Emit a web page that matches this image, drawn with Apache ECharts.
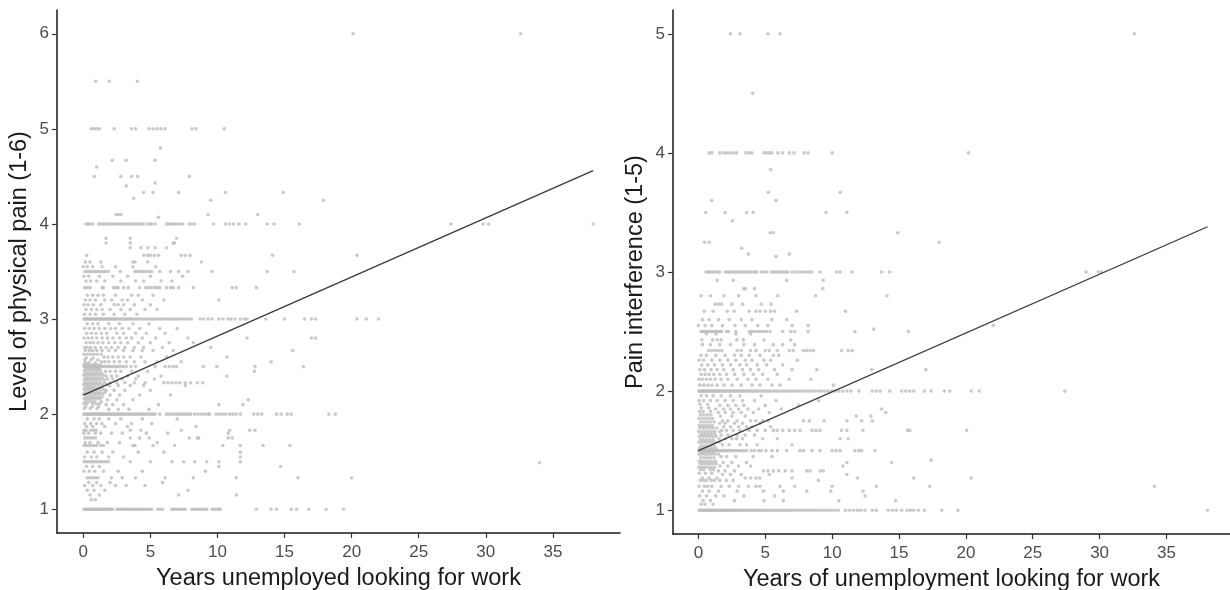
<!DOCTYPE html>
<html><head><meta charset="utf-8">
<script src="https://cdn.jsdelivr.net/npm/echarts@6/dist/echarts.min.js"></script>
<style>html,body{margin:0;padding:0;background:#fff}#c{width:1230px;height:590px}</style>
</head><body><div id="c"></div>
<script>
// ---------- tick labels ----------
const xTicks = [0, 5, 10, 15, 20, 25, 30, 35];
const painTicks = [1, 2, 3, 4, 5, 6];
const interfTicks = [1, 2, 3, 4, 5];

// ---------- LEFT PANEL: Level of physical pain (1-6) ----------
const painAt1 = [0.05,0.14,0.22,0.33,0.41,0.5,0.61,0.7,0.78,0.9,0.98,1.07,1.18,1.26,1.37,1.45,1.55,1.66,1.74,1.86,1.95,2.05,2.18,2.5,2.62,2.77,2.9,3.04,3.18,3.3,3.45,3.57,3.7,3.84,3.96,4.1,4.24,4.38,4.52,4.66,4.8,4.95,5.1,5.55,5.72,5.9,6.6,6.72,6.86,7.0,7.15,7.3,7.45,7.6,8.1,8.25,8.42,8.57,8.73,8.9,9.06,9.2,9.6,9.75,9.93,10.1,10.2,12.9,14.0,14.4,15.5,15.9,16.8,18.1,19.4];
const painAt15 = [0.06,0.19,0.33,0.47,0.62,0.78,0.93,1.08,1.24,1.4,1.56,1.72,1.88,3.5,5.0,6.6,7.5,8.3,9.2,10.1,11.7];
const painAt2 = [0.04,0.12,0.2,0.29,0.37,0.46,0.55,0.63,0.72,0.8,0.9,0.99,1.08,1.17,1.26,1.35,1.45,1.54,1.63,1.73,1.82,1.92,2.01,2.12,2.22,2.33,2.43,2.55,2.66,2.78,2.9,3.02,3.15,3.27,3.4,3.53,3.66,3.8,3.93,4.07,4.2,4.34,4.48,4.62,4.77,4.92,5.07,5.2,5.35,5.7,6.2,6.4,6.58,6.75,6.95,7.12,7.3,7.5,7.68,7.85,8.0,8.3,8.55,8.8,9.05,9.3,9.4,9.9,10.15,10.4,10.6,10.9,11.15,11.4,11.7,12.7,13.0,13.3,14.4,14.75,15.2,15.5,18.3,18.8];
const painAt25 = [0.06,0.18,0.3,0.42,0.55,0.67,0.79,0.92,1.05,1.18,1.31,1.45,1.58,1.72,1.86,2.0,2.15,2.3,2.46,2.62,2.8,2.98,3.2,3.55,3.9,5.35,6.1,6.4,6.7,6.95,8.95,9.95,12.8,16.4];
const painAt3 = [0.05,0.13,0.21,0.3,0.38,0.47,0.56,0.64,0.73,0.82,0.91,1.0,1.1,1.19,1.28,1.38,1.47,1.57,1.66,1.76,1.86,1.96,2.07,2.17,2.28,2.39,2.5,2.62,2.74,2.86,2.98,3.1,3.23,3.36,3.49,3.62,3.76,3.9,4.05,4.2,4.35,4.5,4.66,4.82,4.98,5.14,5.3,5.47,5.63,5.8,5.97,6.14,6.32,6.5,6.68,6.86,7.05,7.24,7.43,7.62,7.82,8.05,8.7,8.95,9.3,9.6,10.1,10.4,10.8,11.0,11.3,11.7,12.0,12.2,13.6,15.0,16.5,17.0,17.3,20.4,21.1,22.0];
const painAt35 = [0.13,0.27,0.44,0.58,0.76,0.9,1.06,1.22,1.35,1.52,1.66,1.86,2.75,3.85,4.0,4.2,4.35,4.5,4.7,4.9,5.1,5.7,6.5,7.1,7.8,9.6,13.7,15.7];
const painAt4 = [0.2,0.35,0.5,0.7,1.15,1.3,1.45,1.6,1.75,1.9,2.05,2.2,2.35,2.5,2.65,2.8,2.95,3.1,3.25,3.4,3.55,3.7,3.85,4.0,4.15,4.3,4.5,4.8,4.95,5.1,5.35,6.2,6.35,6.5,6.7,6.85,7.0,7.2,7.4,7.9,8.1,8.3,9.7,10.6,10.9,11.2,11.6,12.1,13.7,14.2,16.1,27.4,29.8,30.2,38.0];
const painAt5 = [0.6,0.8,1.0,1.2,2.3,3.6,3.9,4.9,5.2,5.5,5.8,6.1,8.1,8.4,10.5];
const painAt55 = [0.92,1.94,4.03];
const painAt6 = [20.1,32.6];
// other observed points, as [level, [years...]]
const painRows = [
  [1.1, [0.6,0.9]],
  [1.15, [0.5,1.2,7.1,11.4]],
  [1.2, [0.3,0.8,1.6,7.8]],
  [1.25, [0.1,0.7,1.3,2.4,3.2,4.6]],
  [1.28, [0.4,1.0,2.0,5.9]],
  [1.33, [0.3,0.5,0.7,0.9,1.1,2.1,2.9,3.9,6.1,8.2,11.4,16.0,20.0]],
  [1.4, [0.05,0.45,0.85,1.5,2.6,4.4,9.1]],
  [1.45, [0.25,0.7,1.2,10.1,14.7]],
  [1.49, [34.0]],
  [1.55, [0.1,0.6,1.0,1.9,3.0,11.7]],
  [1.6, [0.3,0.8,1.4,2.2,4.1,6.0,11.7]],
  [1.67, [0.05,0.2,0.4,0.6,0.8,1.0,1.3,1.5,3.7,3.85,5.2,6.8,10.4,11.7,13.4,15.4]],
  [1.7, [0.15,0.5,1.1,1.8,2.7,5.5]],
  [1.75, [0.1,0.3,0.5,0.7,0.9,3.5,4.2,4.9,7.9,8.5,8.6,10.8,11.1]],
  [1.8, [0.05,0.4,0.9,1.3,2.1,2.9,4.7,6.3,10.8]],
  [1.83, [0.05,0.2,0.55,0.75,0.95,3.5,4.3,7.3,10.9,12.4,12.8]],
  [1.87, [0.25,0.7,1.6,3.3,8.4]],
  [1.9, [0.1,0.55,1.0,1.4,2.4,3.6,5.1]],
  [1.95, [0.3,0.8,1.2,1.9,2.8,4.4,7.0]],
  [2.05, [1.9,2.6,3.4,4.9]],
  [2.1, [1.7,2.2,3.0,5.6,10.1,11.9]],
  [2.15, [1.8,2.5,3.7,12.3]],
  [2.2, [2.0,2.7,4.2,6.5]],
  [2.25, [1.7,2.3,3.1,5.0]],
  [2.3, [1.95,2.6,3.5,4.5,7.6]],
  [2.33, [1.6,2.0,2.5,3.1,3.8,4.6,6.0,6.3,6.6,6.9,7.2,7.6,8.0,8.5,8.9]],
  [2.37, [1.8,2.2,2.9,3.9,5.3]],
  [2.4, [1.7,2.1,2.5,3.3,4.1,5.8,10.7]],
  [2.45, [1.65,2.0,2.4,2.8,3.6,4.8,12.75]],
  [2.55, [1.35,1.6,1.9,2.3,2.7,3.2,3.8,4.6,5.5,7.3,14.0]],
  [2.6, [1.55,1.85,2.2,2.6,3.0,3.5,4.3,6.2,10.7]],
  [2.63, [0.05,0.3,0.55,0.8,1.05,1.35]],
  [2.67, [0.15,0.45,0.7,1.0,1.4,1.9,2.4,3.0,3.7,4.4,5.2,6.7,15.6]],
  [2.7, [0.1,0.3,0.55,0.9,1.3,1.7,2.1,2.6,3.1,3.8,4.5,5.9,9.5]],
  [2.75, [0.2,0.5,0.75,1.1,1.45,1.9,2.35,2.8,3.3,4.1,5.0,6.4,8.2]],
  [2.8, [0.05,0.35,0.65,1.0,1.4,1.8,2.2,2.7,3.2,3.6,4.4,5.4,7.8,12.2,17.0,17.3]],
  [2.85, [0.25,0.6,0.95,1.35,1.75,2.5,3.0,3.9,4.7,6.1]],
  [2.9, [0.1,0.45,0.8,1.2,1.6,2.05,2.4,2.9,3.4,4.2,5.7,7.0]],
  [2.95, [0.3,0.7,1.1,1.9,2.7,3.7,4.9]],
  [3.05, [0.1,0.5,0.9,1.5,2.3,3.1,4.0]],
  [3.1, [0.2,0.6,1.0,1.4,2.0,2.8,3.5,4.6,5.5]],
  [3.15, [0.05,0.35,0.75,1.3,2.3,2.6,3.0,3.8,5.0]],
  [3.2, [0.15,0.5,0.9,1.6,2.1,2.9,3.3,4.4,6.0,10.1]],
  [3.25, [0.3,0.7,1.1,1.5,2.4,3.6,4.1,5.2]],
  [3.33, [0.1,0.3,0.5,1.4,1.5,2.25,2.45,2.6,3.0,3.35,4.2,4.65,4.85,5.05,5.3,5.5,5.7,6.2,6.5,6.7,7.1,8.2,11.1,11.4,12.9]],
  [3.4, [0.2,0.55,1.0,1.6,2.8,3.9,4.5,5.8,6.6]],
  [3.45, [0.05,0.4,1.2,2.2,3.3,5.0,7.4]],
  [3.55, [0.0,0.3,0.7,1.4,2.4,3.7,5.4]],
  [3.6, [0.15,0.5,1.3,3.7,3.85,4.8,8.8]],
  [3.67, [0.25,4.5,4.8,5.0,5.3,5.6,7.3,7.6,7.95,14.1,20.4]],
  [3.75, [3.5,4.3,4.8,5.35,6.2]],
  [3.8, [1.7,3.5,6.7,6.8]],
  [3.85, [1.7,3.5,6.95]],
  [4.07, [5.6]],
  [4.1, [2.45,2.6,2.8,9.3,13.0]],
  [4.25, [9.5,17.9]],
  [4.27, [3.75]],
  [4.33, [4.5,5.2,7.1,10.6,14.9]],
  [4.4, [3.2]],
  [4.43, [5.35]],
  [4.5, [0.82,2.8,3.6,4.05,7.9]],
  [4.6, [1.0]],
  [4.67, [2.15,3.2,5.35]],
  [4.8, [5.75]]
];
// dense cluster of short-term unemployed (left panel)
const painBlob = [
  [2.06, [0.08,0.52,1.02]],
  [2.08, [0.18,0.66,1.15]],
  [2.11, [0.04,0.27,0.71,0.96,1.2]],
  [2.13, [0.15,0.37,0.6,0.84,1.33]],
  [2.16, [0.07,0.29,0.51,0.74,0.99,1.24]],
  [2.18, [0.19,0.41,0.63,0.87,1.12,1.38]],
  [2.21, [0.03,0.25,0.46,0.68,0.92,1.17,1.45]],
  [2.23, [0.13,0.35,0.57,0.8,1.05,1.3,1.62]],
  [2.26, [0.06,0.28,0.5,0.73,0.97,1.22,1.5]],
  [2.28, [0.16,0.39,0.61,0.85,1.1,1.36]],
  [2.31, [0.02,0.24,0.45,0.67,0.9,1.15,1.42,1.72]],
  [2.33, [0.12,0.34,0.56,0.79,1.03,1.28]],
  [2.36, [0.07,0.3,0.52,0.75,0.99,1.25,1.55]],
  [2.38, [0.18,0.41,0.64,0.88,1.13,1.4]],
  [2.41, [0.04,0.26,0.48,0.71,0.95,1.2,1.48]],
  [2.43, [0.14,0.37,0.6,0.83,1.08,1.34]],
  [2.46, [0.08,0.31,0.54,0.78,1.02,1.27]],
  [2.48, [0.2,0.44,0.68,0.93,1.18]],
  [2.52, [0.05,0.28,0.52,0.76,1.0,1.26]],
  [2.54, [0.16,0.4,0.89]],
  [2.57, [0.1,0.58,1.09]],
  [2.59, [0.22,0.72]]
];
const painFitX = [0, 38.0];
const painFitY = [2.2, 4.56];

// ---------- RIGHT PANEL: Pain interference (1-5) ----------
const intAt1 = [0.04,0.13,0.21,0.3,0.38,0.47,0.55,0.64,0.72,0.81,0.9,0.98,1.07,1.16,1.25,1.34,1.43,1.52,1.61,1.7,1.8,1.89,1.98,2.08,2.18,2.28,2.38,2.48,2.58,2.69,2.8,2.91,3.02,3.13,3.25,3.37,3.49,3.61,3.74,3.87,4.0,4.13,4.27,4.41,4.55,4.7,4.85,5.0,5.15,5.31,5.47,5.63,5.8,5.97,6.14,6.31,6.49,6.67,6.85,7.03,7.22,7.41,7.6,7.8,8.0,8.2,8.41,8.62,8.83,9.05,9.27,9.5,9.73,9.96,10.2,10.45,11.0,11.3,11.6,11.9,12.15,12.45,13.0,13.3,14.2,14.5,14.8,15.2,15.6,15.85,16.1,16.45,16.9,18.2,19.4,38.07];
const intAt15 = [0.03,0.12,0.2,0.29,0.38,0.46,0.55,0.64,0.73,0.82,0.92,1.01,1.11,1.21,1.31,1.42,1.53,1.64,1.76,1.88,2.0,2.13,2.27,2.41,2.56,2.72,2.88,3.05,3.22,3.4,3.6,3.95,4.2,4.5,4.7,5.05,5.5,5.9,6.6,7.6,7.85,8.5,9.1,10.0,10.3,10.6,11.7,12.0,12.2,13.2];
const intAt2 = [0.04,0.12,0.2,0.28,0.36,0.45,0.53,0.62,0.7,0.79,0.88,0.97,1.06,1.15,1.24,1.34,1.43,1.53,1.63,1.73,1.83,1.93,2.04,2.15,2.26,2.37,2.48,2.6,2.72,2.84,2.96,3.09,3.22,3.35,3.48,3.62,3.76,3.9,4.05,4.2,4.35,4.5,4.66,4.82,4.98,5.15,5.32,5.49,5.67,5.85,6.03,6.22,6.41,6.6,6.8,7.0,7.2,7.41,7.62,7.84,8.06,8.28,8.51,8.74,8.98,9.22,9.47,9.72,9.98,10.24,10.5,10.8,11.1,11.4,12.0,13.0,13.3,13.6,14.3,15.2,15.5,15.8,16.1,16.9,17.4,18.4,18.8,20.4,21.0,27.4];
const intAt25 = [0.2,0.32,0.45,0.57,0.7,0.83,0.96,1.1,1.24,1.38,1.52,1.66,1.75,2.1,2.25,2.8,3.8,3.95,4.1,4.3,4.5,4.7,4.9,5.1,5.36,6.3,6.9,7.2,8.2,11.7,15.7];
const intAt3 = [0.58,0.72,0.85,1.0,1.15,1.3,1.45,1.6,2.0,2.15,2.3,2.45,2.6,2.75,2.87,3.1,3.25,3.4,3.55,3.7,3.85,4.0,4.2,4.36,4.7,4.9,5.1,5.43,5.6,5.75,5.9,6.05,6.2,6.35,6.5,6.68,7.0,7.2,7.45,7.68,7.9,8.1,8.3,8.47,9.1,10.34,10.6,11.5,13.7,14.3,29.0,29.9,30.15];
const intAt4 = [0.8,1.0,1.6,1.9,2.1,2.35,2.6,2.85,3.55,3.8,4.0,4.9,5.1,5.3,5.5,5.95,6.3,6.8,7.15,7.9,8.2,10.0,20.2];
const intAt45 = [4.06];
const intAt5 = [2.4,3.1,5.2,6.1,32.6];
const intRows = [
  [1.05, [0.2,0.5,1.1]],
  [1.08, [0.35,0.9,2.7,4.9,6.35,10.5,14.75]],
  [1.12, [0.1,0.6,1.3,1.9,3.4,5.7,12.46]],
  [1.16, [0.3,0.8,1.5,2.9,4.86,6.35,8.1,9.9,12.3]],
  [1.2, [0.05,0.45,0.7,1.0,1.7,2.3,3.0,3.74,4.3,4.6,6.1,7.2,10.0,13.3,17.3,34.1]],
  [1.25, [0.15,0.4,0.6,0.95,1.2,1.6,2.1,2.6,8.97]],
  [1.27, [0.3,0.8,1.4,3.5,3.9,4.3,4.6,7.0,11.9,16.1,20.4]],
  [1.3, [1.8,2.4,3.2,5.3,11.1]],
  [1.33, [1.5,2.0,2.7,4.86,5.2,5.6,6.0,6.5,7.0,8.1,8.35,9.1,9.34]],
  [1.37, [1.6,2.2,3.0,3.9,10.8]],
  [1.4, [1.85,2.5,3.6,11.1,14.45]],
  [1.42, [17.4]],
  [1.45, [1.7,2.1,2.8,4.1,5.5]],
  [1.55, [1.8,2.3,3.1,3.6,4.4,7.0]],
  [1.6, [1.55,2.0,2.5,2.85,3.3,4.8,5.9,10.6,11.2]],
  [1.63, [1.7,2.2,2.9,3.5,4.2]],
  [1.67, [1.75,2.1,2.6,3.1,3.8,4.4,5.0,5.6,5.9,6.3,6.8,7.2,7.6,8.5,8.8,9.1,10.7,11.1,12.3,15.65,15.8,20.06]],
  [1.7, [1.9,2.4,3.0,3.6,4.0,5.4]],
  [1.73, [1.6,2.0,2.7,3.3,4.6]],
  [1.75, [1.8,2.2,2.9,3.9,4.3,4.8,5.2,7.85,8.3,9.4,11.1,12.2,13.0]],
  [1.79, [1.65,2.5,3.5,12.9,11.8]],
  [1.82, [1.5,2.0,2.6,3.2,4.1,5.3,14.0]],
  [1.85, [1.3,1.9,2.4,3.0,3.7,4.5,6.2,13.7]],
  [1.88, [1.6,2.2,2.8,3.4,5.0,7.5]],
  [1.92, [0.05,0.4,0.9,1.4,2.0,2.6,3.3,4.2,5.8,9.0]],
  [1.96, [0.2,0.6,1.1,1.7,2.4,3.1,4.7]],
  [2.05, [0.1,0.4,0.7,1.0,1.4,1.9,2.5,3.2,4.0,4.6,5.5,6.1,10.1]],
  [2.1, [0.05,0.3,0.6,0.9,1.25,1.7,2.2,2.9,3.7,4.3,5.2,6.8,8.4]],
  [2.14, [0.2,0.5,0.8,1.15,1.6,2.1,2.7,3.4,4.1,4.8,5.9]],
  [2.18, [0.1,0.45,0.95,1.4,1.9,2.6,3.3,3.9,4.5,5.7,7.0,8.85,12.96,17.0]],
  [2.22, [0.25,0.7,1.2,1.8,2.4,3.1,3.6,4.4,5.1,6.3]],
  [2.26, [0.05,0.4,1.0,1.6,2.2,2.8,3.5,4.0,4.9,5.4,7.4]],
  [2.3, [0.2,0.6,1.3,2.0,2.7,3.2,3.8,4.6,5.6,6.0]],
  [2.34, [0.75,1.0,1.25,1.5,1.75,2.9,3.2,3.9,4.3,5.0,5.3,5.9,6.8,7.1,7.85,8.1,8.35,8.6,10.7,11.2,11.5]],
  [2.39, [0.3,0.9,1.6,2.4,3.4,4.2,5.6,6.3,7.2]],
  [2.43, [0.25,1.05,1.4,1.7,2.87,3.36,4.9,6.9]],
  [2.48, [0.6,1.3,2.8,3.9]],
  [2.52, [13.1]],
  [2.55, [0.0,0.5,1.0,1.8,2.74,3.5,4.44,5.2,7.0,8.2,22.05]],
  [2.6, [0.3,0.8,1.5,2.3,3.2,4.0,5.5,6.6]],
  [2.67, [0.43,1.1,2.17,2.67,3.8,4.3,4.6,5.0,5.4,5.7,7.35,11.0]],
  [2.73, [1.25,1.5,1.75,2.5,3.3,4.7,5.43]],
  [2.8, [0.2,0.9,1.9,3.0,4.3,5.93,8.77,14.1]],
  [2.86, [3.4,3.5,4.2,9.3]],
  [2.93, [1.4,2.6,6.6,9.34]],
  [3.13, [5.8]],
  [3.15, [3.74,6.8]],
  [3.2, [3.24]],
  [3.25, [0.45,0.8,18.0]],
  [3.33, [5.36,5.6,14.9]],
  [3.43, [2.54]],
  [3.5, [0.55,2.0,3.6,4.1,9.55,11.1]],
  [3.6, [1.0,5.8]],
  [3.67, [5.23,10.6]],
  [3.86, [5.4]]
];
// dense cluster of short-term unemployed (right panel)
const intBlob = [
  [1.31, [0.06,0.52,1.0]],
  [1.34, [0.17,0.4,0.88,1.13]],
  [1.36, [0.03,0.25,0.47,0.7,0.94,1.2]],
  [1.39, [0.13,0.36,0.58,0.82,1.07,1.33]],
  [1.41, [0.07,0.3,0.53,0.77,1.01,1.27]],
  [1.44, [0.18,0.42,0.65,0.9,1.16]],
  [1.47, [0.04,0.27,0.5,0.73,0.97,1.23,1.5]],
  [1.49, [0.14,0.37,0.6,0.84,1.09]],
  [1.52, [0.08,0.31,0.54,0.78,1.03,1.3]],
  [1.54, [0.2,0.43,0.67,0.91,1.17]],
  [1.57, [0.05,0.28,0.51,0.75,0.99,1.25,1.55]],
  [1.59, [0.15,0.38,0.62,0.86,1.11]],
  [1.62, [0.09,0.32,0.56,0.8,1.05,1.32]],
  [1.64, [0.21,0.45,0.69,0.94,1.2]],
  [1.66, [0.02,0.26,0.5,0.74,0.98,1.24,1.6]],
  [1.69, [0.12,0.36,0.6,0.85,1.1,1.38]],
  [1.71, [0.07,0.31,0.55,0.79,1.04]],
  [1.74, [0.18,0.43,0.68,0.93,1.19]],
  [1.77, [0.04,0.29,0.54,0.8,1.06]],
  [1.8, [0.16,0.41,0.67,0.94]],
  [1.83, [0.09,0.35,0.9]],
  [1.86, [0.22,0.77]],
  [1.89, [0.12,0.7]]
];
const intFitX = [0, 38.07];
const intFitY = [1.5, 3.38];

// ---------- build point lists ----------
function band(level, xs) { return xs.map(x => [x, level]); }
function rows(rs) { const out = []; rs.forEach(r => r[1].forEach(x => out.push([x, r[0]]))); return out; }
const painPoints = [].concat(
  band(1, painAt1), band(1.5, painAt15), band(2, painAt2), band(2.5, painAt25),
  band(3, painAt3), band(3.5, painAt35), band(4, painAt4), band(5, painAt5),
  band(5.5, painAt55), band(6, painAt6), rows(painRows), rows(painBlob));
const intPoints = [].concat(
  band(1, intAt1), band(1.5, intAt15), band(2, intAt2), band(2.5, intAt25),
  band(3, intAt3), band(4, intAt4), band(4.5, intAt45), band(5, intAt5),
  rows(intRows), rows(intBlob));
const painFit = painFitX.map((x, i) => [x, painFitY[i]]);
const intFit = intFitX.map((x, i) => [x, intFitY[i]]);

const FONT = "'Liberation Sans', Arial, Helvetica, sans-serif";
function xAx(idx, name, min, max) {
  return {
    type: 'value', gridIndex: idx, min: min, max: max,
    name: name, nameLocation: 'middle', nameGap: 34,
    nameTextStyle: { fontFamily: FONT, fontSize: 23.5, color: '#1a1a1a' },
    axisLine: { show: true, onZero: false, lineStyle: { color: '#1a1a1a', width: 1.5 } },
    axisTick: { show: true, length: 5, customValues: xTicks, lineStyle: { color: '#333', width: 1.2 } },
    axisLabel: { customValues: xTicks, fontFamily: FONT, fontSize: 17, color: '#4d4d4d', margin: 11 },
    splitLine: { show: false }
  };
}
function yAx(idx, name, min, max, ticks) {
  return {
    type: 'value', gridIndex: idx, min: min, max: max,
    name: name, nameLocation: 'middle', nameGap: 25, nameRotate: 90,
    nameTextStyle: { fontFamily: FONT, fontSize: 23.5, color: '#1a1a1a' },
    axisLine: { show: true, onZero: false, lineStyle: { color: '#1a1a1a', width: 1.5 } },
    axisTick: { show: true, length: 5, customValues: ticks, lineStyle: { color: '#333', width: 1.2 } },
    axisLabel: { customValues: ticks, fontFamily: FONT, fontSize: 17, color: '#4d4d4d', margin: 8 },
    splitLine: { show: false }
  };
}

const chart = echarts.init(document.getElementById('c'), null, { renderer: 'canvas' });
chart.setOption({
  animation: false,
  backgroundColor: '#ffffff',
  grid: [
    { left: 57, right: 610, top: 10, bottom: 57, outerBoundsMode: 'none', containLabel: false },
    { left: 673, right: 0, top: 10, bottom: 56, outerBoundsMode: 'none', containLabel: false }
  ],
  xAxis: [
    xAx(0, 'Years unemployed looking for work', -1.96, 40),
    xAx(1, 'Years of unemployment looking for work', -1.9, 39.75)
  ],
  yAxis: [
    yAx(0, 'Level of physical pain (1-6)', 0.75, 6.25, painTicks),
    yAx(1, 'Pain interference (1-5)', 0.8, 5.2, interfTicks)
  ],
  series: [
    { type: 'scatter', xAxisIndex: 0, yAxisIndex: 0, data: painPoints, symbolSize: 3.6,
      itemStyle: { color: '#bdbdbd' }, silent: true },
    { type: 'line', xAxisIndex: 0, yAxisIndex: 0, data: painFit, symbol: 'none',
      lineStyle: { color: '#3a3a3a', width: 1.3 }, silent: true },
    { type: 'scatter', xAxisIndex: 1, yAxisIndex: 1, data: intPoints, symbolSize: 3.6,
      itemStyle: { color: '#bdbdbd' }, silent: true },
    { type: 'line', xAxisIndex: 1, yAxisIndex: 1, data: intFit, symbol: 'none',
      lineStyle: { color: '#3a3a3a', width: 1.3 }, silent: true }
  ]
});
</script>
</body></html>
